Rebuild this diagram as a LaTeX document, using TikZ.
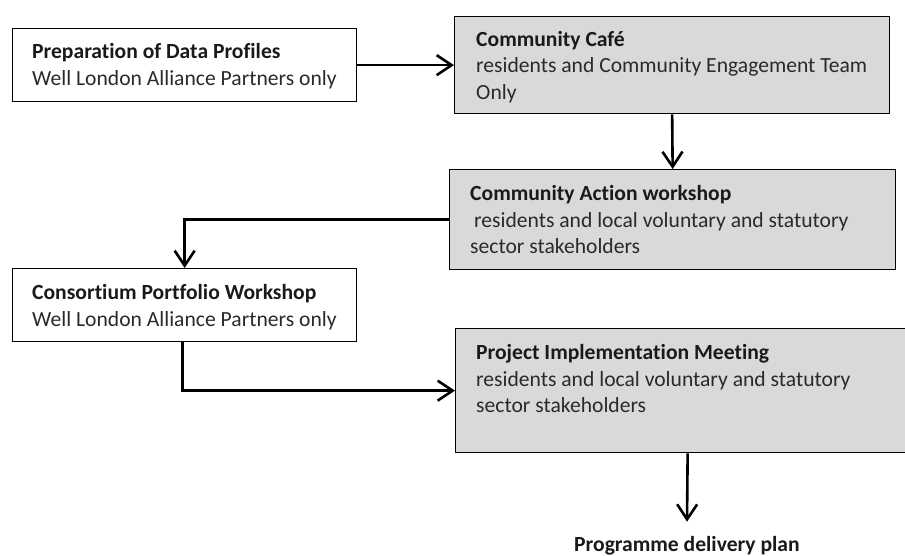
\documentclass[tikz,border=0pt]{standalone}
\usepackage{fontspec}
\setmainfont{Carlito}[Ligatures=NoCommon]
\usetikzlibrary{arrows.meta}
\definecolor{boxgray}{HTML}{D9D9D9}
\definecolor{inktitle}{HTML}{1A1A1A}
\definecolor{inkbody}{HTML}{2A2A2A}
\begin{document}
\begin{tikzpicture}[x=1pt,y=-1pt,
  stagebox/.style={draw=black, line width=1.3pt, fill=white, anchor=north west,
    inner sep=0pt},
  shaded/.style={stagebox, fill=boxgray},
  stagetext/.style={anchor=west, align=left, inner sep=0pt, text=inkbody,
    font=\fontsize{21.6}{26.5}\selectfont},
  flow/.style={line width=2.6pt, -{Straight Barb[length=15pt,width=20pt]}}
]
\clip (0,0) rectangle (905,555);
\fill[white] (0,0) rectangle (905,555);

% stage boxes
\node[stagebox, minimum width=344pt, minimum height=73pt]  (prep)   at (12,28)  {};
\node[shaded,   minimum width=435pt, minimum height=97pt]  (cafe)   at (454,16) {};
\node[shaded,   minimum width=446pt, minimum height=100pt] (action) at (449,169) {};
\node[stagebox, minimum width=344pt, minimum height=73pt]  (cons)   at (12,268) {};
\node[shaded,   minimum width=464pt, minimum height=124pt] (impl)   at (455,328) {};

% box texts
\node[stagetext] (prepT) at ([xshift=20pt,yshift=-1pt]prep.west)
  {\textcolor{inktitle}{\textbf{Preparation of Data Profiles}}\\
   Well London Alliance Partners only};
\node[stagetext] (cafeT) at ([xshift=22pt,yshift=-2pt]cafe.west)
  {\textcolor{inktitle}{\textbf{Community Café}}\\
   residents and Community Engagement Team\\
   Only};
\node[stagetext] (actionT) at ([xshift=21pt]action.west)
  {\textcolor{inktitle}{\textbf{Community Action workshop}}\\
   \hspace*{4pt}residents and local voluntary and statutory\\
   sector stakeholders};
\node[stagetext] (consT) at ([xshift=20pt,yshift=-2pt]cons.west)
  {\textcolor{inktitle}{\textbf{Consortium Portfolio Workshop}}\\
   Well London Alliance Partners only};
\node[stagetext] (implT) at ([xshift=21pt,yshift=12pt]impl.west)
  {\textcolor{inktitle}{\textbf{Project Implementation Meeting}}\\
   residents and local voluntary and statutory\\
   sector stakeholders};

% outcome
\node[anchor=base, inner xsep=0pt, inner ysep=14pt, text=inktitle,
  font=\fontsize{21.6}{26.5}\selectfont\bfseries] (plan) at (687,551)
  {Programme delivery plan};

% connectors
\draw[flow] (prep.east) -- (cafe.west);
\draw[flow] (cafe.south) -- (action.north);
\draw[flow] (action.west) -| (cons.north);
\draw[flow] ([xshift=-2pt]cons.south) |- (impl.west);
\draw[flow] (impl.south) -- (plan.north);
\end{tikzpicture}
\end{document}
